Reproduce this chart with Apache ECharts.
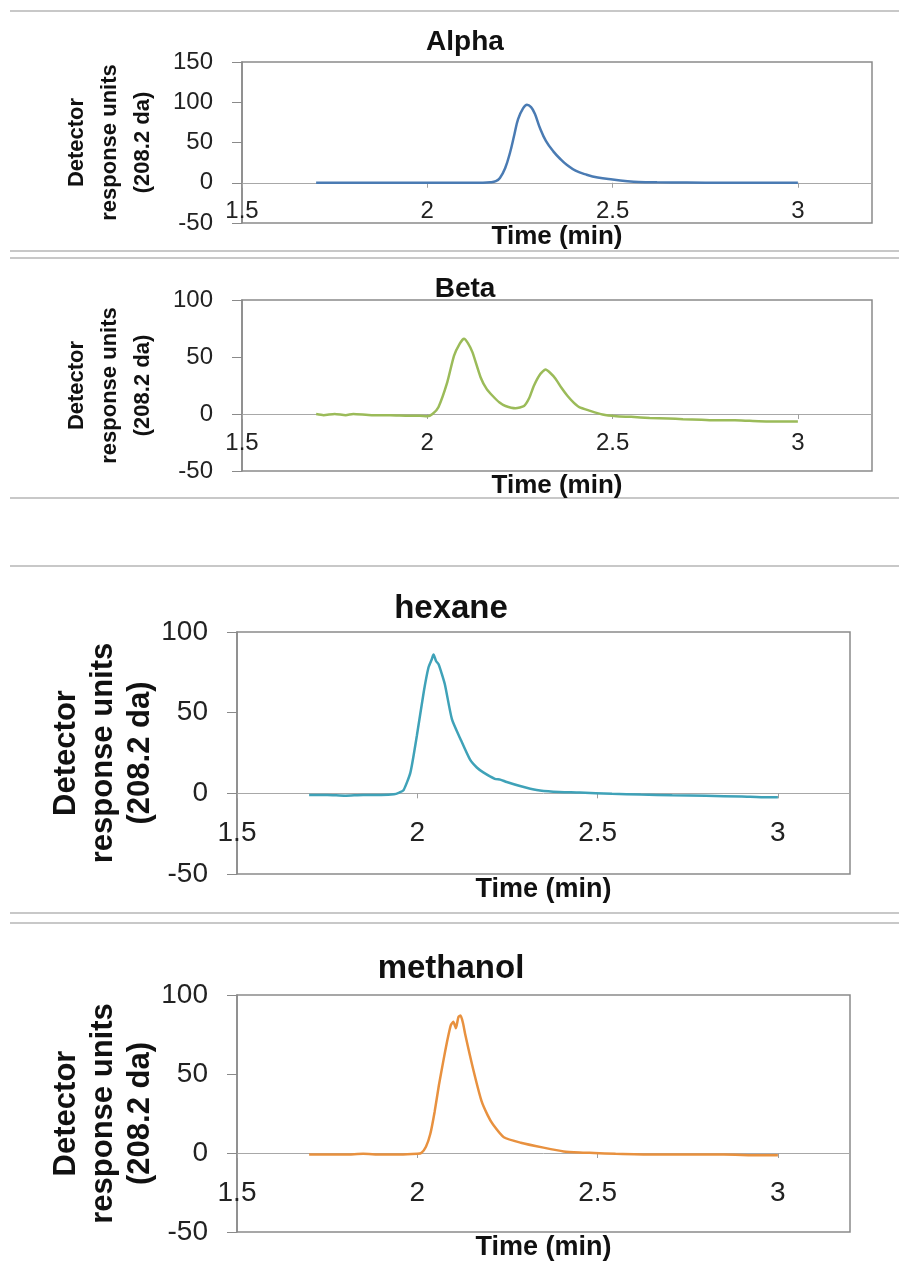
<!DOCTYPE html>
<html lang="en">
<head>
    <meta charset="UTF-8" />
    <title>Detector response</title>
    <script src="https://cdn.jsdelivr.net/npm/echarts@6/dist/echarts.min.js"></script>
    <style>
        html, body { margin: 0; padding: 0; background: #fff; }
        #chart { width: 899px; height: 1263px; }
    </style>
</head>
<body>
    <div id="chart"></div>
    <script>
        // 数据：时间 (min) 与检测器响应
        var timeTicks = [1.5, 2, 2.5, 3]

        var alphaTime = [1.7, 1.8, 1.9, 2.0, 2.1, 2.15, 2.17, 2.185, 2.196, 2.21, 2.223, 2.235, 2.245, 2.258, 2.269, 2.28, 2.29, 2.304, 2.32, 2.34, 2.36, 2.377, 2.4, 2.43, 2.46, 2.5, 2.54, 2.57, 2.62, 2.7, 2.8, 2.9, 3.0]
        var alphaSignal = [0, 0, 0, 0, 0, 0, 0.5, 2, 6, 18, 37, 60, 79, 92, 97, 94, 86, 68, 52, 39, 29, 22, 15, 10, 6.5, 4, 2, 1, 0.5, 0.2, 0, 0, 0]

        var betaTime = [1.7, 1.72, 1.75, 1.78, 1.8, 1.85, 1.9, 1.95, 1.98, 2.0, 2.014, 2.03, 2.054, 2.072, 2.088, 2.099, 2.11, 2.122, 2.144, 2.16, 2.176, 2.195, 2.211, 2.238, 2.261, 2.275, 2.288, 2.305, 2.319, 2.332, 2.346, 2.362, 2.378, 2.395, 2.41, 2.437, 2.473, 2.51, 2.55, 2.6, 2.65, 2.69, 2.74, 2.78, 2.83, 2.87, 2.92, 2.96, 3.0]
        var betaSignal = [0, -1, 0, -1, 0, -1, -1, -1.5, -1.5, -2, 0, 6, 28, 51, 62, 66, 62, 54, 32, 22, 16, 10, 7, 5, 7, 14, 25, 35, 39, 36, 31, 23, 16, 10, 6, 3, -0.5, -2, -2.5, -3.5, -4, -4.5, -5, -5.5, -5.5, -6, -6.5, -6.5, -6.5]

        var hexaneTime = [1.7, 1.75, 1.8, 1.85, 1.9, 1.935, 1.95, 1.962, 1.981, 1.999, 2.018, 2.031, 2.04, 2.045, 2.052, 2.059, 2.068, 2.077, 2.096, 2.119, 2.146, 2.165, 2.183, 2.215, 2.23, 2.248, 2.285, 2.331, 2.377, 2.45, 2.54, 2.62, 2.707, 2.8, 2.9, 2.97, 3.0]
        var hexaneSignal = [-1, -1, -1.5, -1, -1, -0.6, 0.5, 2, 13, 36, 63, 78, 83, 86, 82, 80, 74, 67, 46, 34, 21, 16, 13, 9, 8.5, 7, 4.5, 2, 1, 0.5, -0.3, -0.8, -1.2, -1.5, -2, -2.5, -2.5]

        var methanolTime = [1.7, 1.75, 1.8, 1.85, 1.9, 1.95, 2.0, 2.011, 2.024, 2.036, 2.048, 2.06, 2.072, 2.083, 2.093, 2.1, 2.107, 2.114, 2.12, 2.127, 2.133, 2.154, 2.178, 2.195, 2.21, 2.24, 2.287, 2.35, 2.406, 2.45, 2.49, 2.55, 2.65, 2.75, 2.85, 2.95, 3.0]
        var methanolSignal = [-1, -1, -1, -0.5, -1, -1, -0.5, 0, 4, 12, 26, 43, 58, 71, 81, 83, 79, 86, 87, 82, 75, 54, 33, 24, 18, 10, 6.5, 3.4, 1, 0.3, 0, -0.5, -1, -1, -1, -1.5, -1.5]

        var yAxisName = 'Detector\nresponse units\n(208.2 da)'
        var font = 'Liberation Sans, Arial, sans-serif'

        // 每个小图的布局 (x 轴标签相对于绘图区底边定位)
        var panels = [
            { title: 'Alpha', time: alphaTime, signal: alphaSignal, color: '#4a7bb3', yMax: 150,
              grid: { left: 242, top: 62, width: 630, height: 161 }, titleX: 460, titleY: 23, titleSize: 28,
              tickSize: 24, xMargin: -24, nameGap: 1, nameSize: 26, yNameSize: 22, yNameLH: 33, yNameGap: 83, smooth: 0.4 },
            { title: 'Beta', time: betaTime, signal: betaSignal, color: '#9bbb59', yMax: 100,
              grid: { left: 242, top: 300, width: 630, height: 171 }, titleX: 460, titleY: 270, titleSize: 28,
              tickSize: 24, xMargin: -40, nameGap: 2, nameSize: 26, yNameSize: 22, yNameLH: 33, yNameGap: 83, smooth: 0.2 },
            { title: 'hexane', time: hexaneTime, signal: hexaneSignal, color: '#3fa2b8', yMax: 100,
              grid: { left: 237, top: 632, width: 613, height: 242 }, titleX: 446, titleY: 587, titleSize: 33,
              tickSize: 28, xMargin: -55, nameGap: 2, nameSize: 27, yNameSize: 31, yNameLH: 37, yNameGap: 78, smooth: 0.2 },
            { title: 'methanol', time: methanolTime, signal: methanolSignal, color: '#e8913f', yMax: 100,
              grid: { left: 237, top: 995, width: 613, height: 237 }, titleX: 446, titleY: 947, titleSize: 33,
              tickSize: 28, xMargin: -53, nameGap: 2, nameSize: 27, yNameSize: 31, yNameLH: 37, yNameGap: 78, smooth: 0.2 }
        ]

        var grids = [], xAxes = [], yAxes = [], series = [], titles = []
        panels.forEach(function (p, i) {
            grids.push({
                left: p.grid.left, top: p.grid.top, width: p.grid.width, height: p.grid.height,
                outerBoundsMode: 'none', containLabel: false,
                show: true, borderColor: '#8a8a8a', borderWidth: 1.5, backgroundColor: '#fff'
            })
            titles.push({
                text: p.title, left: p.titleX, top: p.titleY, textAlign: 'center',
                textStyle: { fontFamily: font, fontWeight: 'bold', fontSize: p.titleSize, color: '#111' }
            })
            xAxes.push({
                gridIndex: i, type: 'value', min: timeTicks[0], max: 3.2, interval: 0.5,
                axisLine: { onZero: true, lineStyle: { color: '#a8a8a8', width: 1 } },
                axisTick: { length: 5, lineStyle: { color: '#a0a0a0' } },
                axisLabel: {
                    margin: p.xMargin, fontSize: p.tickSize, fontFamily: font, color: '#222', showMaxLabel: false,
                    formatter: function (v) { return timeTicks.indexOf(v) >= 0 ? String(v) : '' }
                },
                splitLine: { show: false },
                name: 'Time (min)', nameLocation: 'middle', nameGap: p.nameGap, nameMoveOverlap: false,
                nameTextStyle: { fontFamily: font, fontWeight: 'bold', fontSize: p.nameSize, color: '#111' }
            })
            yAxes.push({
                gridIndex: i, type: 'value', min: -50, max: p.yMax, interval: 50,
                axisLine: { show: true, lineStyle: { color: '#8a8a8a', width: 1.5 } },
                axisTick: { show: true, length: 10, lineStyle: { color: '#8a8a8a' } },
                axisLabel: { margin: 29, fontSize: p.tickSize, fontFamily: font, color: '#222' },
                splitLine: { show: false },
                name: yAxisName, nameLocation: 'middle', nameGap: p.yNameGap, nameMoveOverlap: false,
                nameTextStyle: { fontFamily: font, fontWeight: 'bold', fontSize: p.yNameSize, lineHeight: p.yNameLH, color: '#111' }
            })
            series.push({
                type: 'line', xAxisIndex: i, yAxisIndex: i, showSymbol: false, smooth: p.smooth,
                data: p.time.map(function (t, k) { return [t, p.signal[k]] }),
                lineStyle: { color: p.color, width: 2.5 },
                itemStyle: { color: p.color }
            })
        })

        // 面板之间的分隔线
        var sepY = [11, 251, 258, 498, 566, 913, 923]
        var graphics = sepY.map(function (y) {
            return { type: 'line', shape: { x1: 10, y1: y, x2: 899, y2: y }, style: { stroke: '#c8c8c8', lineWidth: 2 } }
        })

        var chart = echarts.init(document.getElementById('chart'))
        chart.setOption({
            animation: false,
            backgroundColor: '#fff',
            title: titles,
            grid: grids,
            xAxis: xAxes,
            yAxis: yAxes,
            series: series,
            graphic: graphics
        })
    </script>
</body>
</html>
